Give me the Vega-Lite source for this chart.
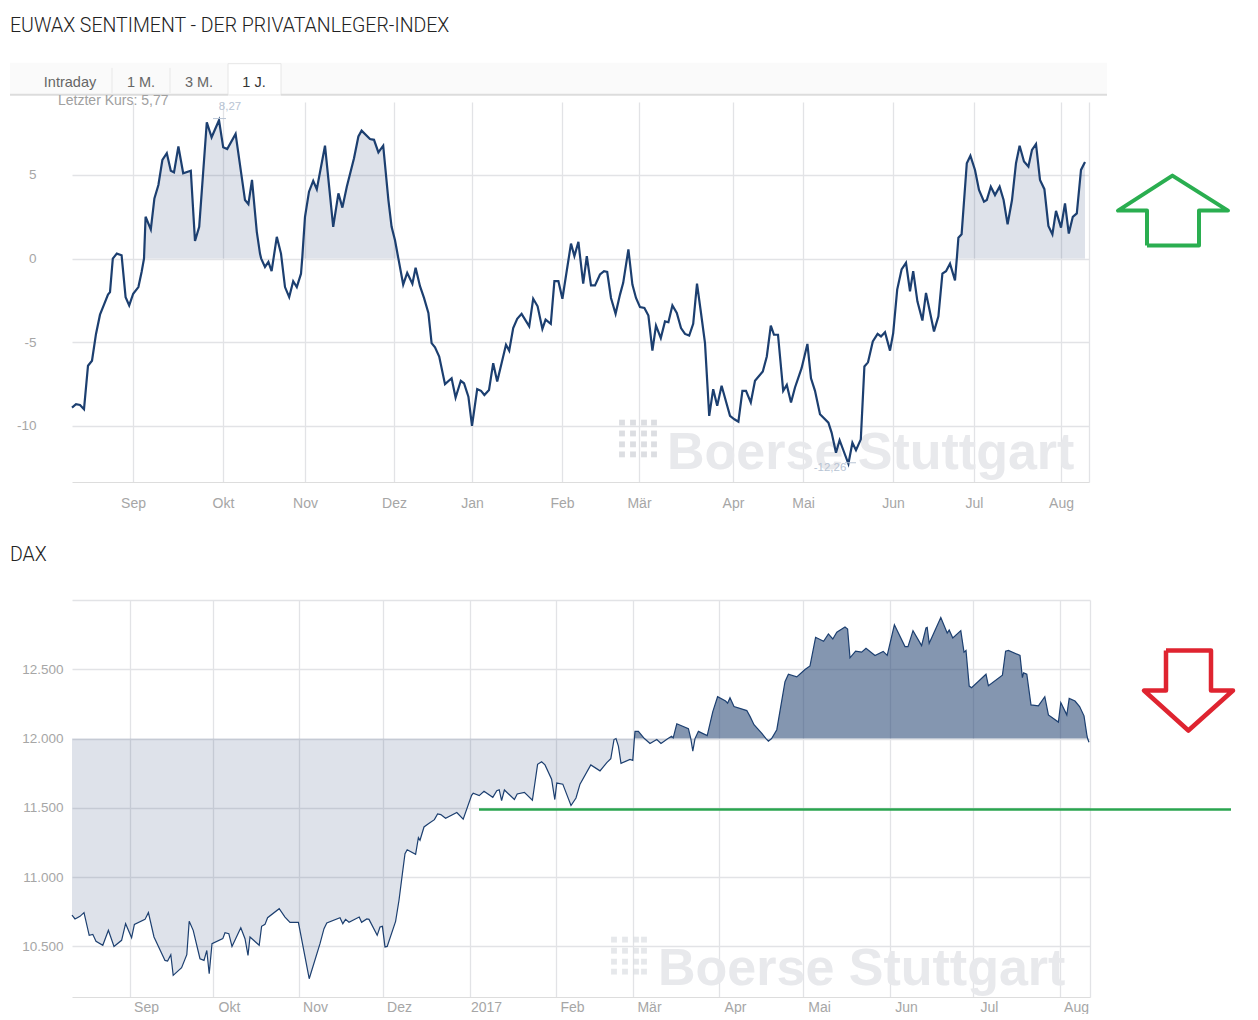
{
  "$schema": "https://vega.github.io/schema/vega-lite/v6.json",
  "background": "white",
  "padding": {"left": 9, "top": 16, "right": 0, "bottom": 0},
  "spacing": 34,
  "config": {"view": {"stroke": null}, "text": {"font": "Liberation Sans"}},
  "datasets": {
    "euwax": [
      {"t":0,"v":-8.9},{"t":1,"v":-8.7},{"t":2,"v":-8.75},{"t":3,"v":-9.0},{"t":4,"v":-6.4},{"t":5,"v":-6.1},{"t":6,"v":-4.5},{"t":7,"v":-3.35},{"t":8,"v":-2.75},{"t":9,"v":-2.15},
      {"t":9.5,"v":-2.0},{"t":10.2,"v":0},{"t":11.2,"v":0.3},{"t":12.4,"v":0.2},{"t":13.4,"v":-2.3},{"t":14.3,"v":-2.8},{"t":15.3,"v":-2.1},{"t":16.6,"v":-1.7},{"t":17.4,"v":-0.8},{"t":18,"v":0},
      {"t":18.4,"v":2.5},{"t":19.7,"v":1.75},{"t":20.6,"v":3.6},{"t":21.6,"v":4.4},{"t":22.6,"v":5.9},{"t":23.7,"v":6.3},{"t":24.7,"v":5.25},{"t":25.5,"v":5.15},{"t":26.6,"v":6.7},{"t":27.8,"v":5.1},
      {"t":29.7,"v":5.25},{"t":30.75,"v":1.05},{"t":31.8,"v":1.9},{"t":33.7,"v":8.15},{"t":34.9,"v":7.25},{"t":36.75,"v":8.27},{"t":37.8,"v":6.65},{"t":38.8,"v":6.55},{"t":40.9,"v":7.45},{"t":43.25,"v":3.5},
      {"t":44.1,"v":3.25},{"t":45,"v":4.7},{"t":46.2,"v":1.6},{"t":47,"v":0.3},{"t":47.3,"v":0},{"t":48.25,"v":-0.5},{"t":49.1,"v":-0.2},{"t":49.9,"v":-0.75},{"t":51.2,"v":1.3},{"t":52.25,"v":0.3},
      {"t":53.25,"v":-1.7},{"t":54.3,"v":-2.3},{"t":55.3,"v":-1.35},{"t":56.2,"v":-1.7},{"t":57.25,"v":-0.9},{"t":57.55,"v":0},{"t":58.25,"v":2.5},{"t":59.25,"v":4},{"t":60.3,"v":4.65},{"t":61.2,"v":4.15},
      {"t":63.25,"v":6.75},{"t":65.3,"v":1.9},{"t":66.6,"v":3.9},{"t":67.6,"v":3.05},{"t":68.7,"v":4.3},{"t":70.5,"v":6},{"t":71.6,"v":7.3},{"t":72.4,"v":7.65},{"t":74.5,"v":7.15},{"t":75.5,"v":7.1},
      {"t":76.6,"v":6.35},{"t":77.8,"v":6.75},{"t":79.1,"v":3.5},{"t":79.9,"v":1.9},{"t":80.75,"v":1.1},{"t":81.6,"v":0},{"t":82.8,"v":-1.55},{"t":83.8,"v":-0.85},{"t":85.1,"v":-1.5},{"t":85.9,"v":-0.55},
      {"t":87,"v":-1.65},{"t":88,"v":-2.35},{"t":89.1,"v":-3.25},{"t":89.9,"v":-5.05},{"t":90.75,"v":-5.3},{"t":91.8,"v":-5.85},{"t":93.25,"v":-7.5},{"t":94.9,"v":-7.15},{"t":95.9,"v":-8.3},{"t":97.2,"v":-7.3},
      {"t":98,"v":-7.45},{"t":99.1,"v":-8.25},{"t":100,"v":-10},{"t":101.3,"v":-7.8},{"t":102.25,"v":-7.9},{"t":103.1,"v":-8.15},{"t":104.25,"v":-7.85},{"t":105.3,"v":-6.25},{"t":106.3,"v":-7.35},{"t":108.5,"v":-5.15},
      {"t":109.3,"v":-5.5},{"t":110.3,"v":-4.15},{"t":111.3,"v":-3.6},{"t":112.4,"v":-3.3},{"t":114.3,"v":-4.05},{"t":115.3,"v":-2.4},{"t":116.4,"v":-2.85},{"t":117.6,"v":-4.2},{"t":118.4,"v":-3.65},{"t":119.7,"v":-3.9},
      {"t":120.6,"v":-1.35},{"t":121.6,"v":-1.35},{"t":122.6,"v":-2.4},{"t":124.75,"v":0.9},{"t":125.6,"v":0.15},{"t":126.6,"v":1},{"t":127.8,"v":-1.5},{"t":128.7,"v":0.15},{"t":129.75,"v":-1.6},{"t":130.75,"v":-1.6},
      {"t":132,"v":-0.95},{"t":133,"v":-0.75},{"t":133.8,"v":-0.8},{"t":134.75,"v":-2.35},{"t":135.9,"v":-3.3},{"t":137,"v":-2.15},{"t":137.8,"v":-1.45},{"t":139.1,"v":0.55},{"t":140.1,"v":-1.55},{"t":141,"v":-2.35},
      {"t":142,"v":-2.9},{"t":143.1,"v":-2.95},{"t":144.1,"v":-3.4},{"t":145.1,"v":-5.5},{"t":146,"v":-4},{"t":147.2,"v":-4.75},{"t":148.25,"v":-3.75},{"t":149.1,"v":-3.8},{"t":150.1,"v":-2.8},{"t":151.2,"v":-3.25},
      {"t":152.25,"v":-4.15},{"t":153.25,"v":-4.5},{"t":154.3,"v":-4.6},{"t":155.3,"v":-3.9},{"t":156.25,"v":-1.5},{"t":157.25,"v":-3.25},{"t":158.25,"v":-5.05},{"t":159.3,"v":-9.4},{"t":160.3,"v":-7.8},{"t":161.3,"v":-8.8},
      {"t":162.4,"v":-7.6},{"t":164.5,"v":-9.4},{"t":165.6,"v":-9.6},{"t":166.6,"v":-9.75},{"t":167.6,"v":-7.9},{"t":168.5,"v":-7.9},{"t":169.7,"v":-8.6},{"t":170.75,"v":-7.3},{"t":172.7,"v":-6.75},{"t":173.7,"v":-5.85},
      {"t":174.7,"v":-4},{"t":175.5,"v":-4.55},{"t":176.5,"v":-4.55},{"t":177.8,"v":-7.9},{"t":178.7,"v":-7.55},{"t":179.75,"v":-8.6},{"t":180.75,"v":-7.7},{"t":182.4,"v":-6.55},{"t":183.85,"v":-5.1},{"t":184.75,"v":-7.15},
      {"t":185.75,"v":-7.9},{"t":187,"v":-9.3},{"t":189.1,"v":-9.8},{"t":189.9,"v":-10.4},{"t":191,"v":-11.6},{"t":191.9,"v":-10.85},{"t":194.1,"v":-12.26},{"t":195.1,"v":-11},{"t":196,"v":-11.45},{"t":197.2,"v":-10.8},
      {"t":198.1,"v":-6.45},{"t":199,"v":-6.2},{"t":200.2,"v":-4.95},{"t":201.4,"v":-4.5},{"t":202.25,"v":-4.65},{"t":203.25,"v":-4.4},{"t":204.5,"v":-5.5},{"t":205.3,"v":-4.45},{"t":206.3,"v":-1.85},{"t":207.4,"v":-0.65},
      {"t":208.5,"v":-0.25},{"t":209.5,"v":-1.95},{"t":210.3,"v":-0.75},{"t":211.35,"v":-2.55},{"t":212.6,"v":-3.7},{"t":213.5,"v":-2.05},{"t":215.5,"v":-4.35},{"t":216.6,"v":-3.45},{"t":217.6,"v":-0.9},{"t":218.5,"v":-0.75},
      {"t":219.5,"v":-0.3},{"t":220.75,"v":-1.3},{"t":221.2,"v":0},{"t":221.6,"v":1.25},{"t":222.4,"v":1.45},{"t":223.7,"v":5.7},{"t":224.6,"v":6.15},{"t":225.75,"v":5.3},{"t":226.75,"v":4.1},{"t":228,"v":3.4},
      {"t":228.7,"v":3.5},{"t":229.7,"v":4.3},{"t":230.75,"v":3.8},{"t":231.9,"v":4.3},{"t":232.9,"v":3.5},{"t":233.9,"v":2.05},{"t":235,"v":3.5},{"t":236,"v":5.7},{"t":236.9,"v":6.75},{"t":238,"v":5.8},
      {"t":239.1,"v":5.5},{"t":240,"v":6.5},{"t":241,"v":6.85},{"t":242,"v":4.7},{"t":243.1,"v":4.15},{"t":244.1,"v":1.95},{"t":245.1,"v":1.45},{"t":246,"v":2.85},{"t":247.25,"v":1.85},{"t":248.25,"v":3.3},
      {"t":249.2,"v":1.5},{"t":250.2,"v":2.5},{"t":251.2,"v":2.7},{"t":252.25,"v":5.3},{"t":253.25,"v":5.77}
    ],
    "dax": [
      {"t":0,"v":10725},{"t":0.75,"v":10698},{"t":2,"v":10717},{"t":3,"v":10744},{"t":4.3,"v":10580},{"t":5.2,"v":10587},{"t":6,"v":10537},{"t":7.7,"v":10508},{"t":9.1,"v":10616},{"t":10.5,"v":10500},
      {"t":12.4,"v":10544},{"t":13.4,"v":10664},{"t":14.9,"v":10563},{"t":15.6,"v":10659},{"t":18.25,"v":10695},{"t":19.1,"v":10744},{"t":20.5,"v":10568},{"t":23.25,"v":10399},{"t":23.9,"v":10394},{"t":24.7,"v":10440},
      {"t":25.3,"v":10291},{"t":27.4,"v":10346},{"t":28.7,"v":10440},{"t":29.3,"v":10681},{"t":30.3,"v":10616},{"t":32,"v":10411},{"t":33,"v":10399},{"t":33.7,"v":10471},{"t":34.3,"v":10303},{"t":35,"v":10520},
      {"t":37.7,"v":10556},{"t":38.25,"v":10599},{"t":39.2,"v":10592},{"t":40,"v":10500},{"t":42.2,"v":10635},{"t":43.25,"v":10556},{"t":44,"v":10435},{"t":44.5,"v":10568},{"t":46.8,"v":10508},{"t":47.4,"v":10645},
      {"t":48.25,"v":10659},{"t":48.9,"v":10707},{"t":51.8,"v":10772},{"t":53.25,"v":10712},{"t":54.5,"v":10674},{"t":56.6,"v":10674},{"t":59.3,"v":10267},{"t":62,"v":10520},{"t":63,"v":10628},{"t":63.7,"v":10669},
      {"t":67,"v":10707},{"t":67.7,"v":10664},{"t":68.4,"v":10695},{"t":69.25,"v":10674},{"t":71.8,"v":10712},{"t":72.4,"v":10674},{"t":73.7,"v":10698},{"t":74.25,"v":10695},{"t":76.3,"v":10580},{"t":77,"v":10640},
      {"t":77.6,"v":10645},{"t":78.25,"v":10496},{"t":78.8,"v":10500},{"t":80.9,"v":10681},{"t":81.75,"v":10833},{"t":82.6,"v":11025},{"t":83.25,"v":11170},{"t":83.8,"v":11198},{"t":85.9,"v":11165},{"t":86.6,"v":11285},
      {"t":87,"v":11266},{"t":88,"v":11362},{"t":89.1,"v":11386},{"t":90.6,"v":11415},{"t":91.4,"v":11456},{"t":92.2,"v":11451},{"t":93.4,"v":11425},{"t":96.2,"v":11466},{"t":97.8,"v":11418},{"t":99.9,"v":11591},
      {"t":100.3,"v":11605},{"t":101.8,"v":11588},{"t":103,"v":11619},{"t":105.2,"v":11576},{"t":106.2,"v":11624},{"t":106.8,"v":11631},{"t":107.4,"v":11552},{"t":108.1,"v":11629},{"t":110.6,"v":11560},{"t":111.3,"v":11600},
      {"t":113.1,"v":11612},{"t":115.1,"v":11555},{"t":116.4,"v":11814},{"t":117.4,"v":11833},{"t":118.25,"v":11810},{"t":119.9,"v":11707},{"t":120.7,"v":11560},{"t":121.2,"v":11679},{"t":122.7,"v":11671},{"t":124.75,"v":11517},
      {"t":126,"v":11571},{"t":127,"v":11671},{"t":129.7,"v":11810},{"t":132,"v":11767},{"t":133.7,"v":11826},{"t":134.7,"v":11855},{"t":135.5,"v":11993},{"t":136,"v":12000},{"t":136.6,"v":11945},{"t":137.25,"v":11821},
      {"t":139.5,"v":11850},{"t":140.2,"v":11843},{"t":140.6,"v":12000},{"t":140.75,"v":12052},{"t":141.6,"v":12052},{"t":143.1,"v":12000},{"t":144.5,"v":11964},{"t":146.2,"v":11993},{"t":147.25,"v":11964},{"t":149,"v":12000},
      {"t":149.9,"v":12017},{"t":150.3,"v":12005},{"t":151.2,"v":12107},{"t":154.1,"v":12071},{"t":154.7,"v":12000},{"t":155.2,"v":11910},{"t":155.75,"v":12000},{"t":156.6,"v":12052},{"t":158.8,"v":12021},{"t":160.2,"v":12195},
      {"t":161.4,"v":12302},{"t":163.4,"v":12271},{"t":163.9,"v":12255},{"t":164.5,"v":12295},{"t":165.5,"v":12231},{"t":168.7,"v":12202},{"t":169.5,"v":12160},{"t":170.5,"v":12100},{"t":172.4,"v":12040},{"t":173.5,"v":12000},
      {"t":174.1,"v":11981},{"t":174.9,"v":12000},{"t":176.2,"v":12064},{"t":178.25,"v":12410},{"t":179.1,"v":12464},{"t":181.2,"v":12445},{"t":183.25,"v":12498},{"t":184.5,"v":12524},{"t":185.9,"v":12731},{"t":187.9,"v":12702},
      {"t":189.1,"v":12755},{"t":190.2,"v":12719},{"t":191.2,"v":12767},{"t":193.25,"v":12805},{"t":193.9,"v":12790},{"t":194.5,"v":12583},{"t":195.9,"v":12631},{"t":197.4,"v":12624},{"t":198.5,"v":12652},{"t":200.75,"v":12600},
      {"t":202.8,"v":12629},{"t":203.8,"v":12600},{"t":205.6,"v":12821},{"t":208.25,"v":12664},{"t":209,"v":12664},{"t":210.25,"v":12779},{"t":212.4,"v":12671},{"t":213.5,"v":12798},{"t":213.8,"v":12802},{"t":214.3,"v":12688},
      {"t":217.2,"v":12874},{"t":218.8,"v":12762},{"t":219.3,"v":12783},{"t":220.2,"v":12726},{"t":222.2,"v":12779},{"t":223,"v":12624},{"t":223.5,"v":12636},{"t":224.3,"v":12379},{"t":224.9,"v":12367},{"t":228.5,"v":12464},
      {"t":229.1,"v":12381},{"t":232.6,"v":12457},{"t":233.4,"v":12631},{"t":234.1,"v":12636},{"t":237,"v":12600},{"t":237.6,"v":12440},{"t":237.9,"v":12474},{"t":238.7,"v":12464},{"t":239.75,"v":12243},{"t":241.6,"v":12236},
      {"t":243.2,"v":12302},{"t":244.1,"v":12171},{"t":246.6,"v":12119},{"t":247.2,"v":12260},{"t":248.7,"v":12171},{"t":249.3,"v":12290},{"t":250.75,"v":12271},{"t":251.9,"v":12231},{"t":253,"v":12164},{"t":253.7,"v":12029},
      {"t":253.9,"v":12000},{"t":254.25,"v":11974}
    ],
    "dotsTop": [
      {"t":137.5,"v":-9.8},{"t":140.25,"v":-9.8},{"t":143,"v":-9.8},{"t":145.5,"v":-9.8},
      {"t":137.5,"v":-10.45},{"t":140.25,"v":-10.45},{"t":143,"v":-10.45},{"t":145.5,"v":-10.45},
      {"t":137.5,"v":-11.1},{"t":140.25,"v":-11.1},{"t":143,"v":-11.1},{"t":145.5,"v":-11.1},
      {"t":137.5,"v":-11.7},{"t":140.25,"v":-11.7},{"t":143,"v":-11.7},{"t":145.5,"v":-11.7}
    ],
    "dotsDax": [
      {"t":135.5,"v":10549},{"t":138.25,"v":10549},{"t":141,"v":10549},{"t":143,"v":10549},
      {"t":135.5,"v":10469},{"t":138.25,"v":10469},{"t":141,"v":10469},{"t":143,"v":10469},
      {"t":135.5,"v":10390},{"t":138.25,"v":10390},{"t":141,"v":10390},{"t":143,"v":10390},
      {"t":135.5,"v":10318},{"t":138.25,"v":10318},{"t":141,"v":10318},{"t":143,"v":10318}
    ]
  },
  "vconcat": [
    {
      "width": 1017,
      "height": 380,
      "layer": [
        {
          "data": {"values": [{"t":-15.5,"t2":258.75,"v":11.71,"v2":9.86}]},
          "mark": {"type": "rect", "fill": "#fafafa"},
          "encoding": {
            "x": {"field": "t", "type": "quantitative", "scale": {"domain": [0, 254.25], "nice": false, "zero": false}, "axis": {"title": null, "values": [15.25,37.75,58.25,80.5,100,122.5,141.75,165.25,182.75,205.25,225.5,247.25,254.25], "labelExpr": "['Sep','Okt','Nov','Dez','Jan','Feb','Mär','Apr','Mai','Jun','Jul','Aug',''][indexof([15.25,37.75,58.25,80.5,100,122.5,141.75,165.25,182.75,205.25,225.5,247.25,254.25],datum.value)]", "grid": true, "gridColor": "#e2e3e6", "gridWidth": 1.3, "ticks": false, "domainColor": "#dddddd", "labelColor": "#a6a6a6", "labelFontSize": 14, "labelFont": "Liberation Sans", "labelPadding": 14, "labelOverlap": false, "labelFlush": false}},
            "x2": {"field": "t2"},
            "y": {"field": "v", "type": "quantitative", "scale": {"domain": [-13.35, 9.36], "nice": false, "zero": false}, "axis": {"title": null, "values": [-10,-5,0,5], "labelExpr": "'' + datum.value", "grid": true, "gridColor": "#e2e3e6", "gridWidth": 1.3, "ticks": false, "domain": false, "labelColor": "#a6a6a6", "labelFontSize": 13.5, "labelFont": "Liberation Sans", "labelPadding": 36}},
            "y2": {"field": "v2"}
          }
        },
        {
          "data": {"values": [{"t":39,"t2":52.25,"v":11.65,"v2":9.78}]},
          "mark": {"type": "rect", "fill": "white", "stroke": "#e6e6e6"},
          "encoding": {"x": {"field": "t", "type": "quantitative"}, "x2": {"field": "t2"}, "y": {"field": "v", "type": "quantitative"}, "y2": {"field": "v2"}}
        },
        {
          "data": {"values": [{"t":-15.5,"t2":39,"v":9.8},{"t":52.25,"t2":258.75,"v":9.8}]},
          "mark": {"type": "rule", "color": "#dcdcdc", "strokeWidth": 2},
          "encoding": {"x": {"field": "t", "type": "quantitative"}, "x2": {"field": "t2"}, "y": {"field": "v", "type": "quantitative"}}
        },
        {
          "data": {"values": [{"t":10,"v":11.4,"v2":9.9},{"t":24.5,"v":11.4,"v2":9.9}]},
          "mark": {"type": "rule", "color": "#e8e8e8"},
          "encoding": {"x": {"field": "t", "type": "quantitative"}, "y": {"field": "v", "type": "quantitative"}, "y2": {"field": "v2"}}
        },
        {
          "data": {"values": [{"t":-15.5,"v":13.9,"label":"EUWAX SENTIMENT - DER PRIVATANLEGER-INDEX"}]},
          "mark": {"type": "text", "align": "left", "baseline": "middle", "font": "Roboto", "fontSize": 19.5, "fontWeight": 300, "color": "#222222", "letterSpacing": 1.4},
          "encoding": {"x": {"field": "t", "type": "quantitative"}, "y": {"field": "v", "type": "quantitative"}, "text": {"field": "label"}}
        },
        {
          "data": {"values": [{"t":-0.5,"v":10.52,"label":"Intraday"},{"t":17.25,"v":10.52,"label":"1 M."},{"t":31.75,"v":10.52,"label":"3 M."}]},
          "mark": {"type": "text", "align": "center", "baseline": "middle", "fontSize": 14.5, "color": "#666666"},
          "encoding": {"x": {"field": "t", "type": "quantitative"}, "y": {"field": "v", "type": "quantitative"}, "text": {"field": "label"}}
        },
        {
          "data": {"values": [{"t":45.5,"v":10.52,"label":"1 J."}]},
          "mark": {"type": "text", "align": "center", "baseline": "middle", "fontSize": 14.5, "color": "#333333"},
          "encoding": {"x": {"field": "t", "type": "quantitative"}, "y": {"field": "v", "type": "quantitative"}, "text": {"field": "label"}}
        },
        {
          "data": {"values": [{"t":-3.5,"v":9.44,"label":"Letzter Kurs: 5,77"}]},
          "mark": {"type": "text", "align": "left", "baseline": "middle", "fontSize": 14, "color": "#a0a0a0"},
          "encoding": {"x": {"field": "t", "type": "quantitative"}, "y": {"field": "v", "type": "quantitative"}, "text": {"field": "label"}}
        },
        {
          "data": {"name": "dotsTop"},
          "mark": {"type": "square", "size": 34, "color": "#dcdee2", "opacity": 1},
          "encoding": {"x": {"field": "t", "type": "quantitative"}, "y": {"field": "v", "type": "quantitative"}}
        },
        {
          "data": {"values": [{"t":148.75,"v":-12.6,"label":"Boerse Stuttgart"}]},
          "mark": {"type": "text", "align": "left", "baseline": "alphabetic", "fontSize": 52, "fontWeight": "bold", "color": "#e8e9ec", "letterSpacing": 1.1},
          "encoding": {"x": {"field": "t", "type": "quantitative"}, "y": {"field": "v", "type": "quantitative"}, "text": {"field": "label"}}
        },
        {
          "data": {"name": "euwax"},
          "transform": [{"filter": "(datum.t >= 18 && datum.t <= 47.3) || (datum.t >= 57.55 && datum.t <= 81.6) || datum.t >= 221.2"}],
          "mark": {"type": "area", "color": "#1f3f70", "opacity": 0.15},
          "encoding": {"x": {"field": "t", "type": "quantitative"}, "y": {"field": "v", "type": "quantitative"}, "y2": {"datum": 0}}
        },
        {
          "mark": {"type": "rule", "color": "#cfcfcf", "strokeWidth": 1.5},
          "encoding": {"y": {"datum": 0}}
        },
        {
          "data": {"name": "euwax"},
          "mark": {"type": "line", "color": "#1c3f70", "strokeWidth": 2.2},
          "encoding": {"x": {"field": "t", "type": "quantitative"}, "y": {"field": "v", "type": "quantitative"}}
        },
        {
          "data": {"values": [{"t":35.25,"t2":38.5,"v":8.37},{"t":193.25,"t2":196,"v":-12.2}]},
          "mark": {"type": "rule", "color": "#b8c4d4"},
          "encoding": {"x": {"field": "t", "type": "quantitative"}, "x2": {"field": "t2"}, "y": {"field": "v", "type": "quantitative"}}
        },
        {
          "data": {"values": [{"t":39.5,"v":9.04,"label":"8,27"},{"t":189.5,"v":-12.5,"label":"-12,26"}]},
          "mark": {"type": "text", "align": "center", "baseline": "middle", "fontSize": 11.5, "color": "#b8c4d4"},
          "encoding": {"x": {"field": "t", "type": "quantitative"}, "y": {"field": "v", "type": "quantitative"}, "text": {"field": "label"}}
        },
        {
          "data": {"values": [{"o":1,"t":268.75,"v":0.78},{"o":2,"t":281.75,"v":0.78},{"o":3,"t":281.75,"v":2.87},{"o":4,"t":289,"v":2.87},{"o":5,"t":275.1,"v":4.96},{"o":6,"t":261.5,"v":2.87},{"o":7,"t":268.75,"v":2.87},{"o":8,"t":268.75,"v":0.78}]},
          "mark": {"type": "line", "color": "#2aae50", "strokeWidth": 4, "strokeJoin": "round"},
          "encoding": {"x": {"field": "t", "type": "quantitative"}, "y": {"field": "v", "type": "quantitative"}, "order": {"field": "o"}}
        }
      ]
    },
    {
      "width": 1018,
      "height": 397,
      "layer": [
        {
          "data": {"values": [{"t":-15.5,"v":13325,"label":"DAX"}]},
          "mark": {"type": "text", "align": "left", "baseline": "middle", "font": "Roboto", "fontSize": 19.5, "fontWeight": 300, "color": "#222222"},
          "encoding": {
            "x": {"field": "t", "type": "quantitative", "scale": {"domain": [0, 254.5], "nice": false, "zero": false}, "axis": {"title": null, "values": [14.5,35.25,56.75,77.75,99.5,121,140.25,161.75,182.75,204.5,225.25,247,254.5], "labelExpr": "['Sep','Okt','Nov','Dez','2017','Feb','Mär','Apr','Mai','Jun','Jul','Aug',''][indexof([14.5,35.25,56.75,77.75,99.5,121,140.25,161.75,182.75,204.5,225.25,247,254.5],datum.value)]", "grid": true, "gridColor": "#e2e3e6", "gridWidth": 1.3, "ticks": false, "domainColor": "#dddddd", "labelColor": "#a6a6a6", "labelFontSize": 14, "labelFont": "Liberation Sans", "labelPadding": 3, "labelOffset": 16, "labelOverlap": false, "labelFlush": false}},
            "y": {"field": "v", "type": "quantitative", "scale": {"domain": [10135, 13000], "nice": false, "zero": false}, "axis": {"title": null, "values": [10500,11000,11500,12000,12500,13000], "labelExpr": "datum.value == 13000 ? '' : replace(format(datum.value, ','), ',', '.')", "grid": true, "gridColor": "#e2e3e6", "gridWidth": 1.3, "ticks": false, "domain": false, "labelColor": "#a6a6a6", "labelFontSize": 13.5, "labelFont": "Liberation Sans", "labelPadding": 9}},
            "text": {"field": "label"}
          }
        },
        {
          "data": {"name": "dotsDax"},
          "mark": {"type": "square", "size": 34, "color": "#dcdee2"},
          "encoding": {"x": {"field": "t", "type": "quantitative"}, "y": {"field": "v", "type": "quantitative"}}
        },
        {
          "data": {"values": [{"t":146.5,"v":10224,"label":"Boerse Stuttgart"}]},
          "mark": {"type": "text", "align": "left", "baseline": "alphabetic", "fontSize": 52, "fontWeight": "bold", "color": "#e8e9ec", "letterSpacing": 1.1},
          "encoding": {"x": {"field": "t", "type": "quantitative"}, "y": {"field": "v", "type": "quantitative"}, "text": {"field": "label"}}
        },
        {
          "data": {"name": "dax"},
          "transform": [{"filter": "datum.v <= 12000"}],
          "mark": {"type": "area", "color": "#1f3f70", "opacity": 0.15},
          "encoding": {"x": {"field": "t", "type": "quantitative"}, "y": {"field": "v", "type": "quantitative"}, "y2": {"datum": 12000}}
        },
        {
          "data": {"name": "dax"},
          "transform": [{"filter": "datum.v >= 12000"}],
          "mark": {"type": "area", "color": "#1f3f70", "opacity": 0.55},
          "encoding": {"x": {"field": "t", "type": "quantitative"}, "y": {"field": "v", "type": "quantitative"}, "y2": {"datum": 12000}}
        },
        {
          "data": {"name": "dax"},
          "mark": {"type": "line", "color": "#1c3f70", "strokeWidth": 1.2},
          "encoding": {"x": {"field": "t", "type": "quantitative"}, "y": {"field": "v", "type": "quantitative"}}
        },
        {
          "data": {"values": [{"t":101.75,"v":11489},{"t":289.75,"v":11489}]},
          "mark": {"type": "line", "color": "#2aa54f", "strokeWidth": 2.5},
          "encoding": {"x": {"field": "t", "type": "quantitative"}, "y": {"field": "v", "type": "quantitative"}}
        },
        {
          "data": {"values": [{"o":1,"t":273.5,"v":12635},{"o":2,"t":284.75,"v":12635},{"o":3,"t":284.75,"v":12347},{"o":4,"t":290.25,"v":12347},{"o":5,"t":279.1,"v":12058},{"o":6,"t":268,"v":12347},{"o":7,"t":273.5,"v":12347},{"o":8,"t":273.5,"v":12635}]},
          "mark": {"type": "line", "color": "#df2430", "strokeWidth": 4.5, "strokeJoin": "round"},
          "encoding": {"x": {"field": "t", "type": "quantitative"}, "y": {"field": "v", "type": "quantitative"}, "order": {"field": "o"}}
        }
      ]
    }
  ]
}
